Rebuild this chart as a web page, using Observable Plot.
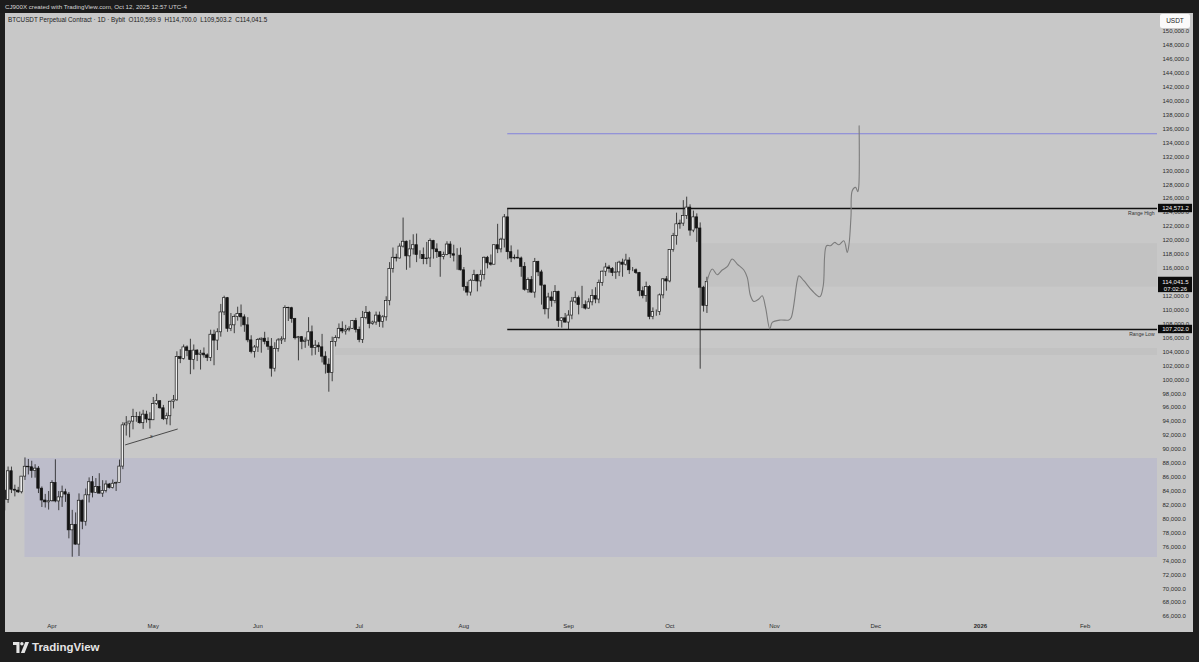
<!DOCTYPE html>
<html>
<head>
<meta charset="utf-8">
<script src="https://cdn.jsdelivr.net/npm/d3@7"></script>
<script src="https://cdn.jsdelivr.net/npm/@observablehq/plot@0.6"></script>
<style>
  html, body { margin:0; padding:0; width:1199px; height:662px; overflow:hidden; background:#1e1e1e; font-family:"Liberation Sans", Arial, sans-serif; }
  #topbar { position:absolute; left:0; top:0; width:1199px; height:13px; background:#1c1c1c; color:#d6d6d6; font-size:6.2px; line-height:14px; padding-left:5px; box-sizing:border-box; white-space:nowrap; }
  #chart { position:absolute; left:5px; top:13px; width:1188px; height:619px; background:#c8c8c8; overflow:hidden; }
  #legend { position:absolute; left:3px; top:3px; font-size:6.3px; line-height:8px; color:#202020; white-space:nowrap; }
  #usdt { position:absolute; left:1155px; top:1px; width:30px; height:14px; background:#fafafa; border-radius:2px; font-size:6.5px; line-height:14px; text-align:center; color:#222; }
  #bottombar { position:absolute; left:0; top:632px; width:1199px; height:30px; background:#1e1e1e; }
  #logo { position:absolute; left:13px; top:9px; display:flex; align-items:center; gap:3px; color:#e4e4e4; font-size:11.5px; font-weight:600; font-family:"Liberation Sans", Arial, sans-serif; }
</style>
</head>
<body>
<div id="topbar">CJ900X created with TradingView.com, Oct 12, 2025 12:57 UTC-4</div>
<div id="chart">
  <div id="plot"></div>
  <div id="legend">BTCUSDT Perpetual Contract · 1D · Bybit&nbsp;&nbsp;O110,599.9&nbsp;&nbsp;H114,700.0&nbsp;&nbsp;L109,503.2&nbsp;&nbsp;C114,041.5</div>
  <div id="usdt">USDT</div>
</div>
<div id="bottombar">
  <div id="logo">
    <svg width="16" height="11" viewBox="0 0 16 11"><path d="M0 0H6.5V11H3.4V3.1H0Z" fill="#e4e4e4"/><circle cx="8.9" cy="1.7" r="1.7" fill="#e4e4e4"/><path d="M12.3 0H16L11.6 11H7.9Z" fill="#e4e4e4"/></svg>
    <span>TradingView</span>
  </div>
</div>
<script>
// ---------------- data (BTCUSDT daily, Bybit perpetual) ----------------
const firstDay = "2025-03-18";
const open = [
  84075, 82720, 86850, 84200, 84070, 83830, 86080, 87500, 87420, 86900, 87230, 84350, 82650, 82390,
  82550, 85160, 82520, 83100, 83840, 83500, 78370, 79160, 76320, 82620, 79600, 83400, 85280, 83760, 84590, 83640, 84030, 84950, 84450, 85060, 85170, 87520, 93440, 93700, 93980, 94640, 94660, 93750, 94980, 94280,
  94170, 96490, 96910, 95890, 94320, 94750, 96830, 97030, 103240, 102970, 104630, 104140, 102810, 104170, 103540, 103740, 103490, 103130, 106450, 105610, 106800, 109650, 111700, 107300, 107800, 108990, 109440, 108950, 107800, 105640, 103990,
  104620, 105700, 105880, 105430, 104730, 101570, 104400, 105630, 105790, 110290, 110260, 108690, 105950, 106100, 105430, 105600, 106800, 104570, 104880, 104640, 103300, 102150, 100960, 105400, 105980, 107300, 106920, 107100, 107300, 108400,
  107150, 105700, 108850, 109600, 108000, 108200, 109200, 108300, 108950, 111300, 115900, 117500, 117400, 119100, 119800, 117700, 118700, 119300, 117900, 117900, 117300, 117400, 119900, 118700, 118300, 117600, 117900, 119400, 118000, 117800, 117800,
  115700, 113300, 112500, 114200, 115000, 114100, 115000, 117500, 116700, 116500, 119300, 118700, 120100, 123300, 118300, 117400, 117500, 117400, 116200, 112900, 114300, 112500, 116900, 115400, 113500, 110100, 111800, 111300, 112600, 108400, 108800,
  108200, 109200, 111200, 111700, 110700, 110700, 110200, 111100, 112000, 111500, 113900, 115500, 116100, 115900, 115300, 115400, 116800, 116500, 117100, 115700, 115700, 115300, 112700, 112000, 113300, 109000, 109700, 109700, 112100, 114400,
  114100, 118600, 120600, 122300, 122400, 123500, 124700, 121400, 123300, 121700, 113200, 110599.9
];
const high = [
  84075, 87460, 87450, 84850, 84540, 86100, 88770, 88540, 88290, 87790, 87520, 84600, 83530, 83940,
  85490, 88500, 83940, 84720, 84270, 83800, 81240, 80870, 83600, 82730, 84300, 85900, 86100, 85800, 86500, 85500, 85470, 85100, 85600, 85300, 88460, 93820, 94700, 94000, 95750, 95300, 95350, 95600, 95470, 95250,
  97440, 97900, 96950, 96300, 95200, 96900, 97730, 104000, 104300, 104980, 104850, 105800, 104980, 104300, 104200, 104550, 103700, 107100, 107100, 107300, 110800, 111980, 111800, 109500, 109300, 110400, 110720, 109300, 108900, 106300, 104900,
  105900, 105980, 106800, 106000, 105900, 105300, 105900, 106150, 110600, 110400, 110390, 108800, 106200, 106200, 106000, 108900, 107700, 105600, 105300, 106500, 104000, 103000, 106100, 106300, 108000, 108300, 107800, 107600, 108500, 108800,
  107550, 109800, 110500, 109800, 108400, 109700, 109700, 109200, 111900, 116800, 118900, 118000, 119500, 123200, 119900, 120000, 120800, 120900, 118500, 118900, 119700, 120200, 120000, 119500, 118400, 118300, 119800, 119800, 119300, 118800, 118900,
  116100, 114000, 114400, 115700, 115100, 115700, 117600, 117700, 117900, 119300, 122300, 120300, 123700, 124571.2, 119200, 117900, 118600, 117600, 116800, 114600, 114800, 117400, 117000, 115700, 113600, 112400, 112600, 113500, 112700, 108900, 109500,
  109900, 111800, 112600, 112000, 113400, 111300, 111600, 112900, 113200, 114300, 115600, 116700, 116400, 116100, 116800, 117000, 117300, 118000, 117500, 116100, 115900, 115400, 113300, 114000, 113500, 110300, 110000, 112300, 114500, 114800,
  118600, 121000, 123900, 122900, 125700, 126200, 125100, 124200, 123800, 122500, 113400, 114700
];
const low = [
  81150, 82240, 83650, 83170, 83660, 83600, 85530, 86320, 85850, 85860, 83650, 81650, 81570, 81280,
  82430, 82320, 81190, 81660, 82380, 77150, 74510, 76240, 74620, 78460, 78970, 82300, 83030, 83680, 83600, 83100, 83740, 84300, 84300, 83950, 85150, 87080, 91900, 91650, 92800, 93880, 93600, 92860, 93750, 92910,
  94140, 96300, 95750, 94130, 93500, 93380, 95800, 96900, 102300, 102820, 103300, 100720, 101400, 102600, 101380, 103100, 102600, 102600, 102000, 104180, 106100, 109200, 106800, 106900, 106600, 108400, 107550, 106800, 105300, 103700, 103100,
  103900, 103800, 105000, 104200, 100370, 101100, 103950, 105050, 105350, 108350, 108100, 105700, 102700, 104300, 104500, 104800, 103400, 103500, 103900, 102400, 100800, 98200, 99700, 104700, 105800, 106600, 106400, 106850, 107200, 106700,
  105300, 105200, 108600, 107300, 107800, 107800, 107500, 107400, 108400, 110600, 115300, 116900, 117300, 118900, 115700, 116000, 117900, 116800, 117300, 116500, 116500, 116100, 117300, 117400, 114700, 117200, 117800, 117400, 116900, 115700, 115600,
  112700, 112000, 112000, 114100, 112600, 113300, 114300, 115900, 116300, 116500, 118100, 118200, 118900, 117200, 116800, 117200, 117300, 114700, 112700, 112400, 112400, 111700, 114800, 110700, 109300, 108700, 110400, 110900, 107500, 107400, 108100,
  107202, 108600, 110900, 109300, 110200, 110000, 110100, 110600, 110900, 110900, 113400, 114800, 115300, 114800, 114400, 114800, 114700, 116300, 115100, 115500, 115100, 111900, 111600, 111100, 108600, 108600, 109100, 109200, 111600, 112700,
  113900, 118300, 119300, 121600, 122000, 123000, 120600, 121100, 119700, 101500, 109700, 109503.2
];
const close = [
  82720, 86850, 84200, 84070, 83830, 86080, 87500, 87420, 86900, 87230, 84350, 82650, 82390, 82550,
  85160, 82520, 83100, 83840, 83500, 78370, 79160, 76320, 82620, 79600, 83400, 85280, 83760, 84590, 83640, 84030, 84950, 84450, 85060, 85170, 87520, 93440, 93700, 93980, 94640, 94660, 93750, 94980, 94280, 94170,
  96490, 96910, 95890, 94320, 94750, 96830, 97030, 103240, 102970, 104630, 104140, 102810, 104170, 103540, 103740, 103490, 103130, 106450, 105610, 106800, 109650, 111700, 107300, 107800, 108990, 109440, 108950, 107800, 105640, 103990, 104620,
  105700, 105880, 105430, 104730, 101570, 104400, 105630, 105790, 110290, 110260, 108690, 105950, 106100, 105430, 105600, 106800, 104570, 104880, 104640, 103300, 102150, 100960, 105400, 105980, 107300, 106920, 107100, 107300, 108400, 107150,
  105700, 108850, 109600, 108000, 108200, 109200, 108300, 108950, 111300, 115900, 117500, 117400, 119100, 119800, 117700, 118700, 119300, 117900, 117900, 117300, 117400, 119900, 118700, 118300, 117600, 117900, 119400, 118000, 117800, 117800, 115700,
  113300, 112500, 114200, 115000, 114100, 115000, 117500, 116700, 116500, 119300, 118700, 120100, 123300, 118300, 117400, 117500, 117400, 116200, 112900, 114300, 112500, 116900, 115400, 113500, 110100, 111800, 111300, 112600, 108400, 108800, 108200,
  109200, 111200, 111700, 110700, 110700, 110200, 111100, 112000, 111500, 113900, 115500, 116100, 115900, 115300, 115400, 116800, 116500, 117100, 115700, 115700, 115300, 112700, 112000, 113300, 109000, 109700, 109700, 112100, 114400, 114100,
  118600, 120600, 122300, 122400, 123500, 124700, 121400, 123300, 121700, 113200, 110600, 114041.5
];

// Levels and zones
const rangeHigh = 124571.2;
const rangeLow = 107202.0;
const targetLevel = 135300;
const levelsStart = "2025-08-14";
const lavenderZone = ["2025-03-24", 74470, 88680];
const upperZone = ["2025-10-10", 113300, 119500];
const lowerBand = ["2025-06-24", 103470, 104470];

// Hand-drawn projection path: days after Oct 12, 2025 and price
const projStart = "2025-10-12";
const projDays = [0, 1.57, 3.05, 4.53, 6.01, 7.49, 8.98, 10.93, 11.94, 12.91, 13.89, 15.37, 16.38, 17.36, 18.63, 19.34, 21.80, 24.26, 24.97, 26.75, 27.22, 28.70, 31.19, 33.44, 34.45, 35.43, 36.61, 37.80, 39.07, 40.55, 41.56, 42.09, 42.68, 43.04, 44.02, 44.70, 44.99, 45.08];
const projPrice = [114041, 115882, 115063, 115738, 116212, 117317, 116600, 115738, 114675, 112047, 111229, 111574, 112047, 110367, 107266, 108214, 108558, 108558, 108932, 114202, 114920, 114202, 112766, 111904, 113484, 119227, 119227, 119701, 119371, 119946, 118265, 119470, 123535, 127125, 127599, 126982, 127843, 136459];

// Small trendline under the April lows
const trendTimes = ["2025-04-22T19:00Z", "2025-05-08T03:00Z"];
const trendPrices = [90650, 92900];
const trendMarkTime = "2025-04-30T10:00Z";
const trendMarkPrice = 91780;

// Axis ticks
const monthTicks = ["2025-04-01", "2025-05-01", "2025-06-01", "2025-07-01", "2025-08-01", "2025-09-01", "2025-10-01", "2025-11-01", "2025-12-01", "2026-01-01", "2026-02-01"];
const monthLabels = ["Apr", "May", "Jun", "Jul", "Aug", "Sep", "Oct", "Nov", "Dec", "2026", "Feb"];
const priceTicks = d3.range(66000, 150001, 2000);

// Badges on the price scale
const badgeValues = [rangeHigh, rangeLow, 114041.5];
const countdown = "07:02:26";

// ---------------- build ----------------
const DAY = 864e5;
const utc = s => new Date(s.length <= 10 ? s + "T00:00:00Z" : s);
const t0 = +utc("2025-04-01");
const xDomain = [new Date(t0 - 13.77 * DAY), new Date(t0 + 327.46 * DAY)];
const yDomain = [65714, 152564];
const end = xDomain[1];
const n = Math.min(open.length, high.length, low.length, close.length);
const start0 = +utc(firstDay);
const candles = d3.range(n).map(i => {
  const date = new Date(start0 + i * DAY);
  return {date, x1: new Date(+date - 0.36 * DAY), x2: new Date(+date + 0.36 * DAY),
          o: open[i], h: high[i], l: low[i], c: close[i], up: close[i] >= open[i]};
});
const proj = projDays.map((d, i) => ({date: new Date(+utc(projStart) + d * DAY), price: projPrice[i]}));
const zone = z => [{x1: utc(z[0]), x2: end, y1: z[1], y2: z[2]}];
const tickLabel = new Map(monthTicks.map((t, i) => [+utc(t), monthLabels[i]]));

const bx1 = new Date(+end + 0.3 * DAY), bx2 = new Date(+end + 10.37 * DAY), bxm = new Date(+end + 5.33 * DAY);
const pxUsd = (yDomain[1] - yDomain[0]) / 605;
const fmt = d3.format(",.1f");
const badges = [
  {lo: rangeHigh - 4.2 * pxUsd, hi: rangeHigh + 4.2 * pxUsd, price: rangeHigh, label: fmt(badgeValues[0])},
  {lo: rangeLow - 4.2 * pxUsd, hi: rangeLow + 4.2 * pxUsd, price: rangeLow, label: fmt(badgeValues[1])},
  {lo: badgeValues[2] - 10.8 * pxUsd, hi: badgeValues[2] + 4.6 * pxUsd, price: badgeValues[2], label: fmt(badgeValues[2])}
];

const plot = Plot.plot({
  width: 1188,
  height: 619,
  marginLeft: 0,
  marginRight: 36,
  marginTop: 0,
  marginBottom: 14,
  style: {background: "transparent", fontFamily: "'Liberation Sans', Arial, sans-serif", fontSize: "6px", color: "#2b2b2b"},
  x: {type: "utc", domain: xDomain},
  y: {domain: yDomain},
  marks: [
    Plot.rect(zone(lavenderZone), {x1: "x1", x2: "x2", y1: "y1", y2: "y2", fill: "#bdbdcb"}),
    Plot.rect(zone(upperZone), {x1: "x1", x2: "x2", y1: "y1", y2: "y2", fill: "#c2c2c2"}),
    Plot.rect(zone(lowerBand), {x1: "x1", x2: "x2", y1: "y1", y2: "y2", fill: "#c2c2c2"}),
    Plot.axisX({ticks: monthTicks.map(utc), tickSize: 0, tickPadding: 5, tickFormat: d => tickLabel.get(+d), fontSize: 6, fill: "#2b2b2b"}),
    Plot.axisY({anchor: "right", ticks: priceTicks, tickSize: 0, tickPadding: 5, tickFormat: d => fmt(d), fontSize: 6, fill: "#2b2b2b", textAnchor: "start"}),
    Plot.ruleY([targetLevel], {x1: () => utc(levelsStart), x2: () => end, stroke: "#8282dc", strokeWidth: 1}),
    Plot.ruleY([rangeHigh], {x1: () => utc(levelsStart), x2: () => end, stroke: "#111", strokeWidth: 1.4}),
    Plot.ruleY([rangeLow], {x1: () => utc(levelsStart), x2: () => end, stroke: "#111", strokeWidth: 1.4}),
    Plot.line(trendTimes.map((t, i) => ({t: utc(t), p: trendPrices[i]})), {x: "t", y: "p", stroke: "#2a2a2a", strokeWidth: 0.8}),
    Plot.text([{t: utc(trendMarkTime), p: trendMarkPrice}], {x: "t", y: "p", text: () => "x", fontSize: 5, fill: "#222", dy: -1}),
    Plot.ruleX(candles, {x: "date", y1: "l", y2: "h", stroke: "#1c1c1c", strokeWidth: 0.8}),
    Plot.rect(candles.filter(d => d.up), {x1: "x1", x2: "x2", y1: "o", y2: "c", fill: "#f0f0f0", stroke: "#1c1c1c", strokeWidth: 0.7}),
    Plot.rect(candles.filter(d => !d.up), {x1: "x1", x2: "x2", y1: "o", y2: "c", fill: "#141414", stroke: "#141414", strokeWidth: 0.7}),
    Plot.line(proj, {x: "date", y: "price", curve: "catmull-rom", stroke: "#7c7c7c", strokeWidth: 1.1}),
    Plot.text([rangeHigh], {x: () => end, y: d => d, text: () => "Range High", textAnchor: "end", dx: -3, dy: 5, fontSize: 5, fill: "#333"}),
    Plot.text([rangeLow], {x: () => end, y: d => d, text: () => "Range Low", textAnchor: "end", dx: -3, dy: 5, fontSize: 5, fill: "#333"}),
    Plot.rect(badges, {x1: () => bx1, x2: () => bx2, y1: "lo", y2: "hi", fill: "#0c0c0c"}),
    Plot.text(badges, {x: () => bxm, y: "price", text: "label", fill: "#f2f2f2", fontSize: 6}),
    Plot.text([badgeValues[2]], {x: () => bxm, y: d => d, text: () => countdown, fill: "#f2f2f2", fontSize: 6, dy: 7})
  ]
});
document.getElementById("plot").appendChild(plot);
d3.select(plot).selectAll("text").filter(function() { return this.textContent === "2026"; }).attr("font-weight", "bold");
</script>
</body>
</html>
